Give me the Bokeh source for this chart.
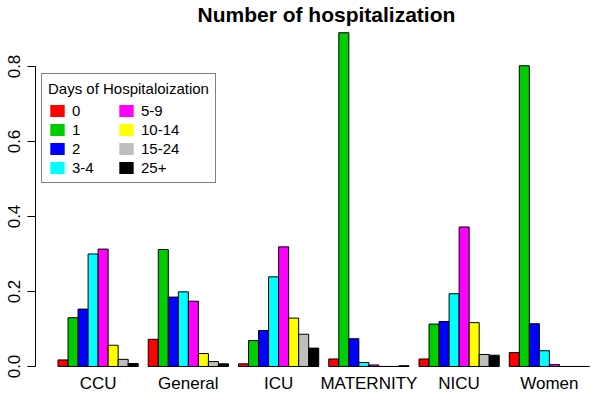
from bokeh.plotting import figure
from bokeh.models import (FixedTicker, NumeralTickFormatter, Legend, LegendItem, Range1d)
from bokeh.embed import file_html
from bokeh.resources import INLINE

# ---------------- data ----------------
wards = ["CCU", "General", "ICU", "MATERNITY", "NICU", "Women"]
day_bins = ["0", "1", "2", "3-4", "5-9", "10-14", "15-24", "25+"]
bin_colors = ["#FF0000", "#00CD00", "#0000FF", "#00FFFF",
              "#FF00FF", "#FFFF00", "#BEBEBE", "#000000"]

# share of stays per ward, one list per length-of-stay bin (order of wards)
days_0 = [0.0175, 0.0725, 0.007, 0.020, 0.020, 0.037]
days_1 = [0.130, 0.312, 0.069, 0.890, 0.113, 0.802]
days_2 = [0.153, 0.185, 0.096, 0.074, 0.120, 0.114]
days_3_4 = [0.300, 0.199, 0.239, 0.0106, 0.194, 0.042]
days_5_9 = [0.313, 0.174, 0.319, 0.004, 0.372, 0.005]
days_10_14 = [0.0566, 0.0345, 0.129, 0.0, 0.117, 0.0]
days_15_24 = [0.019, 0.013, 0.086, 0.0, 0.032, 0.0]
days_25_plus = [0.008, 0.007, 0.049, 0.002, 0.030, 0.0]
series = [days_0, days_1, days_2, days_3_4, days_5_9,
          days_10_14, days_15_24, days_25_plus]

y_ticks = [0.0, 0.2, 0.4, 0.6, 0.8]

# ---------------- figure ----------------
FONT = "Liberation Sans"
n_bins = len(day_bins)
group_step = n_bins + 1          # one empty bar slot between wards

p = figure(width=590, height=395, output_backend="svg", toolbar_location=None,
           x_range=Range1d(-1.243, 54.1), y_range=Range1d(-0.0054, 0.9093),
           min_border_left=35, min_border_right=0, min_border_top=0,
           min_border_bottom=27)
p.outline_line_color = None
p.xgrid.visible = False
p.ygrid.visible = False
p.background_fill_color = "white"
p.border_fill_color = "white"

p.title.text = "Number of hospitalization"
p.title.align = "left"
p.title.offset = 162
p.title.text_font = FONT
p.title.text_font_size = "21px"
p.title.text_font_style = "bold"
p.title.text_color = "black"
p.title.standoff = 0

for b, vals in enumerate(series):
    xs = [1 + g * group_step + b + 0.5 for g in range(len(wards))]
    p.vbar(x=xs, top=vals, bottom=0, width=1, fill_color=bin_colors[b],
           line_color="black", line_width=1)

# legend swatches: zero-width copies of the bars, without outline
items = []
for b, (lab, col) in enumerate(zip(day_bins, bin_colors)):
    xs = [1 + g * group_step + b + 0.5 for g in range(len(wards))]
    proxy = p.vbar(x=xs, top=series[b], bottom=0, width=0,
                   fill_color=col, line_color=None)
    items.append(LegendItem(label=lab, renderers=[proxy]))

legend = Legend(items=items, title="Days of Hospitaloization", ncols=2,
                location=(6, 185), orientation="vertical",
                border_line_color="black", border_line_width=1,
                background_fill_color="white", background_fill_alpha=1,
                padding=6, margin=0, spacing=2,
                glyph_width=18, glyph_height=15, label_height=15,
                label_width=43, label_standoff=6, title_standoff=5,
                title_text_font=FONT, title_text_font_size="15px",
                title_text_font_style="normal", title_text_color="black",
                label_text_font=FONT, label_text_font_size="15px",
                label_text_color="black")
p.add_layout(legend)

# x axis: ward names under group centres
xax = p.xaxis[0]
centers = [1 + g * group_step + n_bins / 2 for g in range(len(wards))]
xax.ticker = FixedTicker(ticks=centers)
xax.major_label_overrides = {c: w for c, w in zip(centers, wards)}
xax.axis_line_color = None
xax.major_tick_line_color = None
xax.major_tick_out = 0
xax.major_tick_in = 0
xax.minor_tick_line_color = None
xax.axis_label_standoff = 0
xax.major_label_standoff = 5
xax.major_label_text_font = FONT
xax.major_label_text_font_size = "17px"
xax.major_label_text_color = "black"

# y axis
yax = p.yaxis[0]
yax.ticker = FixedTicker(ticks=y_ticks)
yax.bounds = (y_ticks[0], y_ticks[-1])
yax.formatter = NumeralTickFormatter(format="0.0")
yax.major_label_orientation = "vertical"
yax.major_tick_out = 8
yax.major_tick_in = 0
yax.minor_tick_line_color = None
yax.axis_label_standoff = 0
yax.axis_line_color = "black"
yax.major_tick_line_color = "black"
yax.major_label_standoff = 7
yax.major_label_text_font = FONT
yax.major_label_text_font_size = "17px"
yax.major_label_text_color = "black"

open("out.html", "w").write(file_html(p, INLINE))
